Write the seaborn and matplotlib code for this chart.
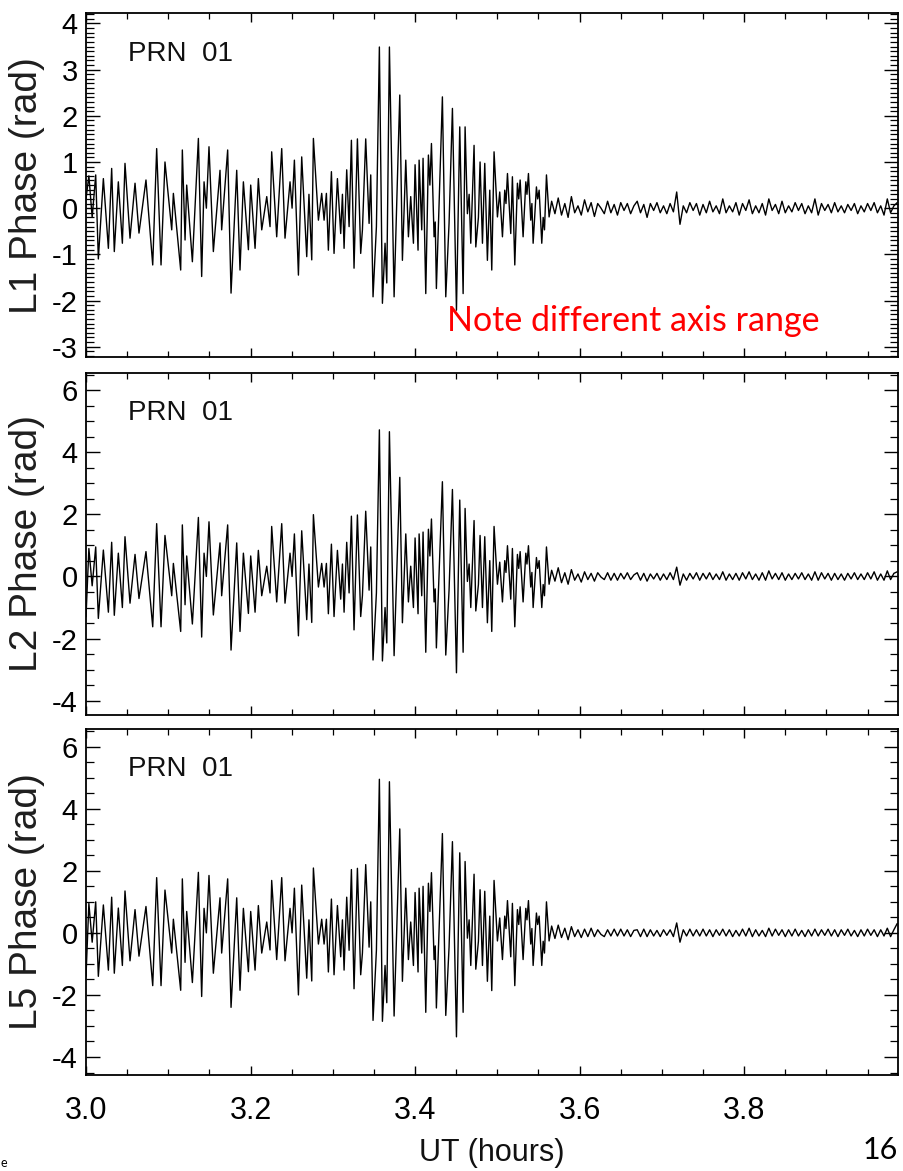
import numpy as np
import pandas as pd
import seaborn as sns
import matplotlib.pyplot as plt
from matplotlib.ticker import MultipleLocator, FormatStrFormatter

# UT (hours) of the turning points during the scintillation burst
ut_active = [
    3.0000, 3.0035, 3.0075, 3.0118, 3.0150, 3.0211, 3.0272, 3.0312, 3.0344, 3.0393,
    3.0442, 3.0474, 3.0535, 3.0596, 3.0644, 3.0729, 3.0811, 3.0859, 3.0912, 3.0960,
    3.1042, 3.1062, 3.1151, 3.1171, 3.1204, 3.1224, 3.1293, 3.1366, 3.1406, 3.1435,
    3.1463, 3.1495, 3.1548, 3.1629, 3.1649, 3.1722, 3.1763, 3.1832, 3.1872, 3.1913,
    3.1974, 3.2002, 3.2055, 3.2095, 3.2136, 3.2197, 3.2237, 3.2257, 3.2318, 3.2379,
    3.2419, 3.2480, 3.2505, 3.2533, 3.2582, 3.2622, 3.2683, 3.2710, 3.2744, 3.2764,
    3.2825, 3.2865, 3.2894, 3.2922, 3.2946, 3.2983, 3.3015, 3.3056, 3.3096, 3.3117,
    3.3137, 3.3169, 3.3198, 3.3226, 3.3258, 3.3299, 3.3339, 3.3360, 3.3400, 3.3441,
    3.3461, 3.3489, 3.3530, 3.3566, 3.3603, 3.3635, 3.3656, 3.3688, 3.3745, 3.3814,
    3.3846, 3.3887, 3.3919, 3.3947, 3.3980, 3.4000, 3.4036, 3.4049, 3.4081, 3.4097,
    3.4130, 3.4162, 3.4180, 3.4199, 3.4231, 3.4245, 3.4259, 3.4292, 3.4332, 3.4373,
    3.4413, 3.4454, 3.4503, 3.4543, 3.4584, 3.4608, 3.4636, 3.4657, 3.4677, 3.4717,
    3.4738, 3.4770, 3.4790, 3.4819, 3.4847, 3.4879, 3.4908, 3.4932, 3.4960, 3.5001,
    3.5029, 3.5062, 3.5090, 3.5105, 3.5123, 3.5163, 3.5183, 3.5212, 3.5244, 3.5260,
    3.5277, 3.5313, 3.5346, 3.5360, 3.5378, 3.5406, 3.5420, 3.5435, 3.5475, 3.5490,
    3.5508, 3.5540, 3.5557, 3.5573, 3.5597, 3.5629,
]

l1_active = [
    0.20, 0.70, -0.20, 0.72, -1.10, 0.64, -0.87, 0.86, -0.94, 0.57,
    -0.76, 0.97, -0.65, 0.54, -0.54, 0.61, -1.23, 1.29, -1.23, 1.00,
    -0.47, 0.32, -1.34, 1.26, -0.69, 0.50, -1.16, 1.51, -1.48, 0.57,
    0.00, 1.33, -0.94, 0.82, -0.47, 1.26, -1.84, 0.82, -1.34, 0.57,
    -0.90, 0.50, -0.87, 0.64, -0.47, 0.25, -0.40, 1.22, -0.62, 1.29,
    -0.65, 0.57, 0.00, 1.04, -1.45, 1.11, -1.05, 0.30, -1.12, 1.51,
    -0.26, 0.32, -0.26, 0.32, -0.91, 0.79, -0.98, 0.64, -0.55, 0.30,
    -0.87, 0.83, -0.40, 1.47, -1.30, 1.50, -0.98, -0.47, 1.50, -0.33,
    0.72, -1.92, -0.40, 3.49, -2.06, -0.76, -1.62, 3.49, -1.92, 2.45,
    -1.13, 1.04, -0.62, 0.25, -0.76, 0.94, -0.91, 1.04, -0.47, 1.08,
    -1.85, 1.15, 0.50, 1.40, -0.62, -0.30, -1.74, 0.10, 2.41, -1.92,
    -0.33, 2.16, -2.21, 1.76, -1.85, 1.76, -0.12, 0.30, -0.76, 1.36,
    -0.84, -0.20, 1.00, -0.76, 0.97, -1.13, 0.39, -1.34, 1.22, -0.19,
    0.35, -0.62, 0.39, 0.10, 0.75, -0.55, 0.68, -1.23, 0.54, 0.20,
    0.61, -0.62, 0.57, 0.30, 0.75, -0.26, 0.10, -0.76, 0.46, 0.20,
    0.39, -0.76, -0.20, -0.47, 0.72, -0.19,
]

l2_active = [
    -1.30, 0.90, -0.30, 0.95, -1.35, 0.85, -1.15, 1.10, -1.25, 0.75,
    -1.00, 1.28, -0.86, 0.71, -0.71, 0.80, -1.62, 1.70, -1.62, 1.32,
    -0.62, 0.42, -1.77, 1.66, -0.91, 0.66, -1.53, 1.90, -1.95, 0.75,
    0.00, 1.76, -1.24, 1.08, -0.62, 1.66, -2.37, 1.08, -1.77, 0.75,
    -1.19, 0.66, -1.15, 0.84, -0.62, 0.33, -0.53, 1.61, -0.82, 1.70,
    -0.86, 0.75, 0.00, 1.37, -1.91, 1.47, -1.39, 0.40, -1.48, 1.99,
    -0.34, 0.42, -0.34, 0.42, -1.20, 1.04, -1.29, 0.84, -0.73, 0.40,
    -1.15, 1.10, -0.53, 1.94, -1.72, 1.98, -1.29, -0.62, 2.10, -0.44,
    0.95, -2.69, -0.53, 4.72, -2.72, -1.00, -2.14, 4.66, -2.55, 3.19,
    -1.49, 1.37, -0.82, 0.33, -1.00, 1.24, -1.20, 1.37, -0.62, 1.43,
    -2.44, 1.52, 0.66, 1.85, -0.82, -0.40, -2.30, 0.13, 3.05, -2.53,
    -0.44, 2.80, -3.10, 2.46, -2.44, 2.19, -0.16, 0.40, -1.00, 1.80,
    -1.11, -0.26, 1.32, -1.00, 1.28, -1.49, 0.51, -1.77, 1.61, -0.25,
    0.46, -0.82, 0.51, 0.13, 0.99, -0.73, 0.90, -1.62, 0.71, 0.26,
    0.80, -0.82, 0.75, 0.40, 0.99, -0.34, 0.13, -1.00, 0.61, 0.26,
    0.51, -1.00, -0.26, -0.62, 0.95, -0.25,
]

l5_active = [
    -1.40, 0.95, -0.30, 1.00, -1.40, 0.90, -1.20, 1.15, -1.30, 0.80,
    -1.05, 1.35, -0.90, 0.75, -0.75, 0.85, -1.70, 1.78, -1.70, 1.38,
    -0.65, 0.44, -1.85, 1.74, -0.95, 0.69, -1.60, 1.95, -2.05, 0.79,
    0.00, 1.85, -1.30, 1.13, -0.65, 1.74, -2.40, 1.13, -1.85, 0.79,
    -1.25, 0.69, -1.20, 0.88, -0.65, 0.35, -0.55, 1.69, -0.86, 1.78,
    -0.90, 0.79, 0.00, 1.44, -2.00, 1.54, -1.46, 0.42, -1.55, 2.09,
    -0.36, 0.44, -0.36, 0.44, -1.26, 1.09, -1.35, 0.88, -0.77, 0.42,
    -1.20, 1.15, -0.56, 2.04, -1.80, 2.08, -1.35, -0.65, 2.20, -0.46,
    1.00, -2.82, -0.56, 4.95, -2.85, -1.05, -2.25, 4.87, -2.68, 3.35,
    -1.56, 1.44, -0.86, 0.35, -1.05, 1.30, -1.26, 1.44, -0.65, 1.50,
    -2.56, 1.60, 0.69, 1.94, -0.86, -0.42, -2.42, 0.14, 3.20, -2.66,
    -0.46, 2.94, -3.35, 2.58, -2.56, 2.30, -0.17, 0.42, -1.05, 1.89,
    -1.17, -0.27, 1.39, -1.05, 1.34, -1.56, 0.54, -1.86, 1.69, -0.26,
    0.48, -0.86, 0.54, 0.14, 1.04, -0.77, 0.95, -1.70, 0.75, 0.27,
    0.84, -0.86, 0.79, 0.42, 1.04, -0.36, 0.14, -1.05, 0.64, 0.27,
    0.54, -1.05, -0.27, -0.65, 1.00, -0.26,
]

# quiet part after the burst, one reading every 0.004 h from 3.566 UT
quiet_start = 3.566
quiet_step = 0.004

l1_quiet = [
    0.15, -0.12, 0.22, -0.15, 0.10, -0.20, 0.25, -0.10, 0.05, -0.15,
    0.18, -0.08, 0.12, -0.18, 0.10, 0.00, -0.12, 0.15, -0.10, 0.08,
    -0.15, 0.12, -0.05, 0.10, -0.12, 0.05, 0.15, -0.10, 0.08, -0.20,
    0.10, -0.05, 0.12, -0.10, 0.05, -0.12, 0.10, -0.08, 0.35, -0.35,
    0.05, -0.10, 0.12, -0.05, 0.10, -0.15, 0.08, -0.10, 0.15, -0.08,
    0.05, -0.12, 0.20, -0.10, 0.05, -0.08, 0.12, -0.15, 0.10, -0.05,
    0.18, -0.12, 0.05, -0.10, 0.10, -0.15, 0.20, -0.05, 0.08, -0.12,
    0.15, -0.10, 0.05, -0.08, 0.12, -0.05, 0.10, -0.12, 0.05, -0.10,
    0.20, -0.15, 0.10, -0.05, 0.08, -0.10, 0.12, -0.08, 0.05, -0.10,
    0.08, -0.05, 0.10, -0.12, 0.05, -0.08, 0.10, -0.05, 0.12, -0.10,
    0.05, -0.15, 0.20, -0.10, 0.05, 0.12,
]

l2_quiet = [
    0.20, -0.15, 0.28, -0.20, 0.12, -0.25, 0.22, -0.12, 0.08, -0.18,
    0.15, -0.10, 0.10, -0.15, 0.12, -0.02, -0.10, 0.12, -0.12, 0.10,
    -0.12, 0.10, -0.08, 0.12, -0.10, 0.05, 0.12, -0.12, 0.10, -0.15,
    0.08, -0.08, 0.10, -0.12, 0.08, -0.10, 0.12, -0.10, 0.30, -0.28,
    0.08, -0.12, 0.10, -0.08, 0.12, -0.12, 0.10, -0.08, 0.12, -0.10,
    0.08, -0.10, 0.15, -0.12, 0.08, -0.10, 0.10, -0.12, 0.12, -0.08,
    0.15, -0.10, 0.08, -0.12, 0.12, -0.12, 0.18, -0.08, 0.10, -0.10,
    0.12, -0.12, 0.08, -0.10, 0.10, -0.08, 0.12, -0.10, 0.08, -0.12,
    0.15, -0.12, 0.12, -0.08, 0.10, -0.12, 0.10, -0.10, 0.08, -0.12,
    0.10, -0.08, 0.12, -0.10, 0.08, -0.10, 0.12, -0.08, 0.15, -0.12,
    0.08, -0.12, 0.18, -0.10, 0.10, 0.15,
]

l5_quiet = [
    0.22, -0.18, 0.25, -0.15, 0.15, -0.22, 0.20, -0.12, 0.10, -0.15,
    0.12, -0.12, 0.15, -0.12, 0.10, -0.05, -0.12, 0.10, -0.10, 0.12,
    -0.10, 0.12, -0.10, 0.10, -0.12, 0.08, 0.10, -0.12, 0.12, -0.12,
    0.10, -0.10, 0.08, -0.12, 0.10, -0.08, 0.10, -0.12, 0.32, -0.30,
    0.10, -0.10, 0.12, -0.10, 0.10, -0.10, 0.12, -0.10, 0.10, -0.12,
    0.10, -0.08, 0.12, -0.10, 0.10, -0.12, 0.08, -0.10, 0.12, -0.10,
    0.15, -0.12, 0.10, -0.10, 0.08, -0.12, 0.15, -0.10, 0.12, -0.08,
    0.10, -0.12, 0.10, -0.10, 0.12, -0.10, 0.08, -0.12, 0.10, -0.10,
    0.12, -0.10, 0.10, -0.08, 0.12, -0.10, 0.10, -0.12, 0.10, -0.08,
    0.12, -0.10, 0.08, -0.12, 0.10, -0.10, 0.12, -0.08, 0.10, -0.12,
    0.10, -0.10, 0.15, -0.12, 0.10, 0.30,
]

signals = ["L1", "L2", "L5"]
active = [l1_active, l2_active, l5_active]
quiet = [l1_quiet, l2_quiet, l5_quiet]
y_limits = [(-3.23, 4.22), (-4.46, 6.56), (-4.58, 6.57)]
y_major = [1, 2, 2]
y_minor = [0.1, 0.5, 0.5]

sns.set_theme(style="ticks")
plt.rcParams['font.family'] = ['Liberation Sans', 'DejaVu Sans']
plt.rcParams['axes.unicode_minus'] = False

fig = plt.figure(figsize=(9.04, 11.71), dpi=100)

# panel boxes in pixels (top, bottom)
boxes = [(13.3, 357.3), (372.7, 715.0), (729.0, 1075.0)]

for i, sig in enumerate(signals):
    top, bottom = boxes[i]
    ax = fig.add_axes([86 / 904, 1 - bottom / 1171, 812 / 904, (bottom - top) / 1171])

    ut_quiet = quiet_start + quiet_step * np.arange(len(quiet[i]))
    df = pd.DataFrame({
        "ut": np.concatenate([ut_active, ut_quiet]),
        "phase": np.concatenate([active[i], quiet[i]]),
    })
    sns.lineplot(data=df, x="ut", y="phase", ax=ax, color="black",
                 linewidth=1.0, estimator=None, sort=False, legend=False)

    ax.set_xlim(3.0, 3.987)
    ax.set_ylim(*y_limits[i])
    ax.xaxis.set_major_locator(MultipleLocator(0.2))
    ax.xaxis.set_minor_locator(MultipleLocator(0.05))
    ax.yaxis.set_major_locator(MultipleLocator(y_major[i]))
    ax.yaxis.set_minor_locator(MultipleLocator(y_minor[i]))
    ax.xaxis.set_major_formatter(FormatStrFormatter('%.1f'))

    ax.tick_params(which='both', direction='in', top=True, right=True, colors='black')
    ax.tick_params(axis='y', which='major', length=10, width=1.0, labelsize=21, pad=6)
    ax.tick_params(axis='y', which='minor', length=5.5, width=0.9)
    ax.tick_params(axis='x', which='major', length=6.5, width=1.0, labelsize=22, pad=15)
    ax.tick_params(axis='x', which='minor', length=4, width=0.9)
    for spine in ax.spines.values():
        spine.set_color('black')
        spine.set_linewidth(1.3)

    ax.set_ylabel(f"{sig} Phase (rad)", fontsize=28, color='#1e1e1e')
    ax.yaxis.set_label_coords(-0.05, 0.5)

    ax.text(0.052, 0.883, "PRN  01", transform=ax.transAxes, fontsize=20,
            ha='left', va='center', color='#111111')

    if i < 2:
        ax.tick_params(axis='x', labelbottom=False)
        ax.set_xlabel("")
    else:
        ax.set_xlabel("UT (hours)", fontsize=22, labelpad=9, color='#111111')

fig.text(447 / 904, 1 - 321 / 1171, "Note different axis range", color='#ff0000',
         fontsize=24.5, ha='left', va='center', family=['Lato', 'DejaVu Sans'])
fig.text(880 / 904, 1 - 1150 / 1171, "16", fontsize=22, ha='center', va='center',
         family=['Lato', 'DejaVu Sans'], color='black')
fig.text(0.001, 1 - 1163 / 1171, "e", fontsize=9, ha='left', va='center',
         family=['Lato', 'DejaVu Sans'], color='black')

fig.savefig("out.png", dpi=100)
